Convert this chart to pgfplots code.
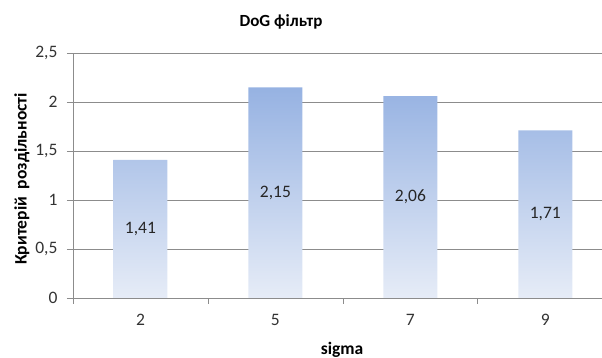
\documentclass[border=0pt]{standalone}
\usepackage{pgfplots}
\usepackage{pgfplotstable}
\pgfplotsset{compat=1.18}
\usepackage{fontspec}
\setmainfont{Carlito}
\definecolor{gridgray}{RGB}{140,140,140}
\definecolor{bartop}{RGB}{150,178,226}
\definecolor{barbot}{RGB}{230,236,247}
\pgfplotstableread{
x v
0 1.41
1 2.15
2 2.06
3 1.71
}\datatable
\begin{document}
\begin{tikzpicture}[x=1pt,y=1pt]
\useasboundingbox (0,0) rectangle (602,358);
\begin{axis}[
  at={(73pt,60pt)}, anchor=south west,
  scale only axis, width=529pt, height=245pt,
  xmin=-0.5, xmax=3.42, ymin=0, ymax=2.5,
  axis x line*=bottom, axis y line*=left,
  axis line style={gridgray, line width=0.8pt, -},
  xtick={0,1,2,3}, xticklabels={2,5,7,9},
  major x tick style={draw=none},
  minor xtick={-0.5,0.5,1.5,2.5},
  minor x tick style={gridgray, line width=0.8pt},
  minor tick length=6pt,
  xtick align=outside, ytick align=outside,
  ytick={0,0.5,1,1.5,2,2.5},
  major y tick style={gridgray, line width=0.8pt},
  major tick length=6pt,
  ymajorgrids, grid style={gridgray, line width=0.8pt},
  tick label style={font=\fontsize{17.5}{20}\selectfont, text=black!80},
  /pgf/number format/use comma,
  /pgf/number format/assume math mode=true,
  xticklabel style={yshift=-7pt},
  yticklabel style={xshift=-6pt},
  clip=false,
]
\addplot[ybar, bar width=54pt, draw=none, top color=bartop, bottom color=barbot] table[x=x, y=v] {\datatable};
\addplot[only marks, mark=none, point meta=\thisrow{v},
  nodes near coords={\pgfmathprintnumber[fixed, fixed zerofill, precision=2, use comma, assume math mode=true]{\pgfplotspointmeta}},
  every node near coord/.style={anchor=center, font=\fontsize{17.5}{20}\selectfont, text=black!85}]
  table[x=x, y expr=\thisrow{v}/2] {\datatable};
\end{axis}
\node[font=\bfseries\fontsize{17}{20}\selectfont] at (281,336) {DoG фільтр};
\node[font=\bfseries\fontsize{17.5}{20}\selectfont] at (342,8) {sigma};
\node[font=\bfseries\fontsize{17.5}{20}\selectfont, rotate=90] at (22,179) {Критерій\ \ роздільності};
\end{tikzpicture}
\end{document}
